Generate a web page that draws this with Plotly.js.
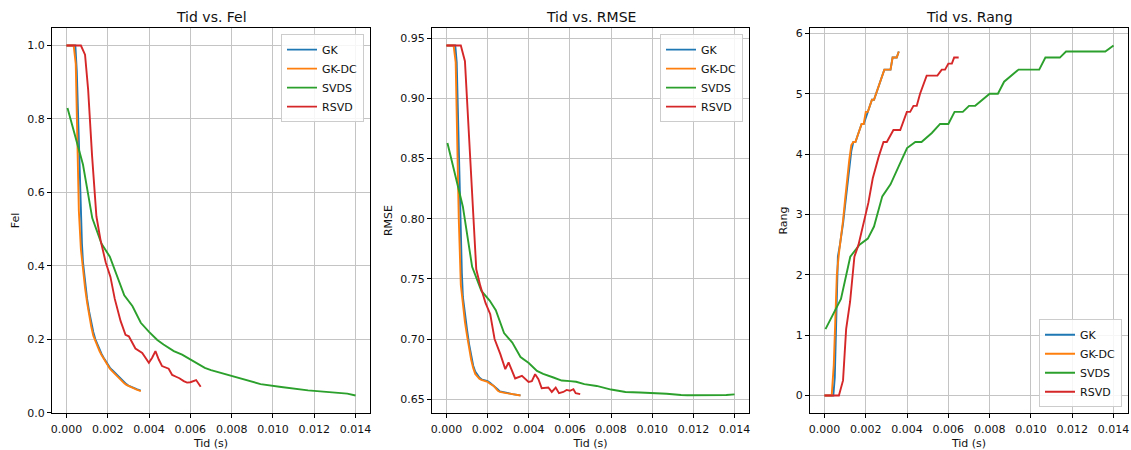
<!DOCTYPE html>
<html><head><meta charset="utf-8">
<script src="https://cdn.plot.ly/plotly-3.0.1.min.js"></script>
<style>html,body{margin:0;padding:0;background:#fff;} #chart{width:1131px;height:450px;}</style>
</head><body><div id="chart"></div>
<script>
// ---- data ----
const seriesNames = ['GK', 'GK-DC', 'SVDS', 'RSVD'];
const seriesColors = ['#1f77b4', '#ff7f0e', '#2ca02c', '#d62728'];
const panelTitles = ['Tid vs. Fel', 'Tid vs. RMSE', 'Tid vs. Rang'];
const yLabels = ['Fel', 'RMSE', 'Rang'];
const xTicks = [0, 0.002, 0.004, 0.006, 0.008, 0.010, 0.012, 0.014];

const tGK = [0, 0.00043, 0.0005, 0.00065, 0.00075, 0.0008, 0.0009, 0.001, 0.0011, 0.0012, 0.0013, 0.0014, 0.0015, 0.0016, 0.0017, 0.0018, 0.0019, 0.002, 0.0021, 0.0022, 0.0023, 0.0024, 0.0025, 0.0026, 0.0027, 0.0028, 0.0029, 0.003, 0.0031, 0.0032, 0.0033, 0.0034, 0.0035, 0.0036];
const felGK = [1.0, 1.0, 0.93, 0.6, 0.46, 0.41, 0.35, 0.31, 0.275, 0.245, 0.22, 0.2, 0.185, 0.172, 0.16, 0.15, 0.14, 0.13, 0.123, 0.117, 0.111, 0.105, 0.099, 0.093, 0.087, 0.082, 0.078, 0.074, 0.071, 0.068, 0.066, 0.064, 0.062, 0.06];
const rmseGK = [0.944, 0.944, 0.93, 0.81, 0.755, 0.735, 0.72, 0.708, 0.696, 0.686, 0.678, 0.673, 0.67, 0.668, 0.6665, 0.666, 0.6655, 0.665, 0.6638, 0.6625, 0.6612, 0.66, 0.658, 0.6565, 0.656, 0.6555, 0.6552, 0.655, 0.6546, 0.6542, 0.654, 0.6537, 0.6534, 0.6532];
const rangGK = [0, 0, 0.3, 2.3, 2.5, 2.6, 2.85, 3.15, 3.45, 3.75, 4.05, 4.2, 4.2, 4.3, 4.4, 4.5, 4.5, 4.6, 4.7, 4.8, 4.9, 4.9, 5.0, 5.1, 5.2, 5.3, 5.4, 5.4, 5.4, 5.4, 5.6, 5.6, 5.6, 5.7];

const tGKDC = [0, 0.00035, 0.00045, 0.0006, 0.0007, 0.0008, 0.0009, 0.001, 0.0011, 0.0012, 0.0013, 0.0014, 0.0015, 0.0016, 0.0017, 0.0018, 0.0019, 0.002, 0.0021, 0.0022, 0.0023, 0.0024, 0.0025, 0.0026, 0.0027, 0.0028, 0.0029, 0.003, 0.0031, 0.0032, 0.0033, 0.0034, 0.0035, 0.0036];
const felGKDC = [1.0, 1.0, 0.95, 0.55, 0.445, 0.39, 0.34, 0.30, 0.265, 0.235, 0.21, 0.195, 0.18, 0.168, 0.157, 0.147, 0.136, 0.126, 0.12, 0.114, 0.108, 0.102, 0.096, 0.09, 0.085, 0.08, 0.076, 0.073, 0.07, 0.067, 0.065, 0.063, 0.061, 0.059];
const rmseGKDC = [0.944, 0.944, 0.93, 0.80, 0.745, 0.728, 0.714, 0.703, 0.692, 0.683, 0.676, 0.671, 0.669, 0.667, 0.666, 0.6655, 0.665, 0.6645, 0.663, 0.662, 0.661, 0.659, 0.657, 0.656, 0.6555, 0.655, 0.655, 0.6548, 0.6545, 0.654, 0.654, 0.6535, 0.6532, 0.653];
const rangGKDC = [0, 0, 0.5, 2.0, 2.35, 2.6, 2.9, 3.25, 3.6, 3.9, 4.15, 4.2, 4.2, 4.3, 4.4, 4.5, 4.5, 4.7, 4.7, 4.8, 4.9, 4.9, 5.0, 5.1, 5.2, 5.3, 5.4, 5.4, 5.4, 5.4, 5.6, 5.6, 5.6, 5.7];

const tSVDS = [0.00005, 0.0008, 0.00125, 0.0017, 0.0021, 0.0024, 0.0028, 0.0032, 0.0036, 0.004, 0.0044, 0.0047, 0.0052, 0.0056, 0.006, 0.0063, 0.0067, 0.007, 0.0073, 0.008, 0.0084, 0.0087, 0.0094, 0.0104, 0.0107, 0.0114, 0.0117, 0.0136, 0.014];
const felSVDS = [0.83, 0.676, 0.53, 0.46, 0.425, 0.38, 0.32, 0.29, 0.245, 0.22, 0.198, 0.186, 0.168, 0.158, 0.145, 0.133, 0.122, 0.116, 0.111, 0.1, 0.093, 0.088, 0.078, 0.07, 0.068, 0.063, 0.061, 0.052, 0.047];
const rmseSVDS = [0.863, 0.81, 0.76, 0.74, 0.732, 0.724, 0.705, 0.697, 0.685, 0.68, 0.6735, 0.671, 0.668, 0.6655, 0.665, 0.6645, 0.6625, 0.6615, 0.661, 0.658, 0.6565, 0.656, 0.6555, 0.655, 0.6545, 0.6535, 0.6533, 0.6535, 0.654];
const rangSVDS = [1.1, 1.6, 2.3, 2.5, 2.6, 2.8, 3.3, 3.5, 3.8, 4.1, 4.2, 4.2, 4.35, 4.5, 4.5, 4.7, 4.7, 4.8, 4.8, 5.0, 5.0, 5.2, 5.4, 5.4, 5.6, 5.6, 5.7, 5.7, 5.8];

const tRSVD = [0, 0.0007, 0.0009, 0.00105, 0.00124, 0.00145, 0.00165, 0.0019, 0.00213, 0.00234, 0.00262, 0.00286, 0.00302, 0.00334, 0.00367, 0.00399, 0.00415, 0.00431, 0.00447, 0.00463, 0.00495, 0.00512, 0.00531, 0.00547, 0.00568, 0.00584, 0.006, 0.00617, 0.00628, 0.0065];
const felRSVD = [1.0, 1.0, 0.975, 0.88, 0.7, 0.535, 0.47, 0.41, 0.37, 0.31, 0.25, 0.212, 0.208, 0.175, 0.163, 0.136, 0.15, 0.168, 0.145, 0.127, 0.12, 0.103, 0.098, 0.094, 0.086, 0.082, 0.083, 0.088, 0.089, 0.071];
const rmseRSVD = [0.944, 0.944, 0.931, 0.883, 0.823, 0.758, 0.744, 0.730, 0.7206, 0.700, 0.6874, 0.675, 0.6805, 0.6672, 0.6694, 0.6644, 0.665, 0.6708, 0.6666, 0.6591, 0.6597, 0.656, 0.6597, 0.655, 0.656, 0.6577, 0.657, 0.6583, 0.655, 0.6542];
const rangRSVD = [0, 0, 0.25, 1.1, 1.55, 2.3, 2.5, 2.85, 3.2, 3.6, 3.95, 4.2, 4.2, 4.4, 4.4, 4.7, 4.7, 4.8, 4.8, 5.0, 5.3, 5.3, 5.3, 5.3, 5.4, 5.4, 5.5, 5.5, 5.6, 5.6];

// ---- build ----
const times = [tGK, tGKDC, tSVDS, tRSVD];
const panelValues = [
  [felGK, felGKDC, felSVDS, felRSVD],
  [rmseGK, rmseGKDC, rmseSVDS, rmseRSVD],
  [rangGK, rangGKDC, rangSVDS, rangRSVD]
];
const W = 1131;
const domains = [[52/W, 370/W], [432/W, 749/W], [810/W, 1128/W]];
const yRanges = [[-0.0007, 1.0477], [0.6385, 0.9586], [-0.29, 6.09]];
const yTickCfg = [
  {tickvals: [0, 0.2, 0.4, 0.6, 0.8, 1.0], tickformat: '.1f'},
  {tickvals: [0.65, 0.70, 0.75, 0.80, 0.85, 0.90, 0.95], tickformat: '.2f'},
  {tickvals: [0, 1, 2, 3, 4, 5, 6], tickformat: 'd'}
];
const legendNames = ['legend', 'legend2', 'legend3'];
const FONT = 'DejaVu Sans, sans-serif';

const traces = [];
panelValues.forEach((vals, p) => {
  const sfx = p === 0 ? '' : String(p + 1);
  seriesNames.forEach((name, s) => {
    traces.push({
      type: 'scatter', mode: 'lines', name: name,
      x: times[s], y: vals[s],
      xaxis: 'x' + sfx, yaxis: 'y' + sfx,
      legend: legendNames[p],
      line: {color: seriesColors[s], width: 1.9}
    });
  });
});

const layout = {
  width: 1131, height: 450,
  margin: {l: 0, r: 0, t: 28, b: 37},
  paper_bgcolor: '#fff', plot_bgcolor: '#fff',
  font: {family: FONT, size: 11, color: '#111'},
  showlegend: true,
  annotations: []
};
const legendPos = [
  {x: 364/W, y: 0.984, xanchor: 'right', yanchor: 'top'},
  {x: 743/W, y: 0.984, xanchor: 'right', yanchor: 'top'},
  {x: 1122/W, y: 0.015, xanchor: 'right', yanchor: 'bottom'}
];
for (let p = 0; p < 3; p++) {
  const sfx = p === 0 ? '' : String(p + 1);
  layout['xaxis' + sfx] = {
    domain: domains[p], anchor: 'y' + sfx,
    range: [-0.0007, 0.0147], tickvals: xTicks, tickformat: '.3f',
    showgrid: true, gridcolor: '#c4c4c4', gridwidth: 1, zeroline: false,
    showline: true, mirror: true, linecolor: '#000', linewidth: 1,
    ticks: 'outside', ticklen: 4, tickcolor: '#000',
    tickfont: {size: 11}, automargin: false, ticklabelstandoff: 2,
    title: {text: 'Tid (s)', font: {size: 11}, standoff: 7}
  };
  layout['yaxis' + sfx] = Object.assign({
    domain: [0, 1], anchor: 'x' + sfx,
    range: yRanges[p],
    showgrid: true, gridcolor: '#c4c4c4', gridwidth: 1, zeroline: false,
    showline: true, mirror: true, linecolor: '#000', linewidth: 1,
    ticks: 'outside', ticklen: 4, tickcolor: '#000',
    tickfont: {size: 11}, automargin: false,
    title: {text: yLabels[p], font: {size: 11}, standoff: 5}
  }, yTickCfg[p]);
  layout[legendNames[p]] = Object.assign({
    bgcolor: 'rgba(255,255,255,0.85)', bordercolor: '#cccccc', borderwidth: 1,
    font: {size: 11}, itemwidth: 30, tracegroupgap: 0
  }, legendPos[p]);
  layout.annotations.push({
    text: panelTitles[p], showarrow: false,
    xref: 'x' + sfx + ' domain', yref: 'y' + sfx + ' domain',
    x: 0.5, y: 1, xanchor: 'center', yanchor: 'bottom', yshift: 1,
    font: {size: 14, color: '#111'}
  });
}

Plotly.newPlot('chart', traces, layout, {displayModeBar: false, staticPlot: true});
</script>
</body></html>
